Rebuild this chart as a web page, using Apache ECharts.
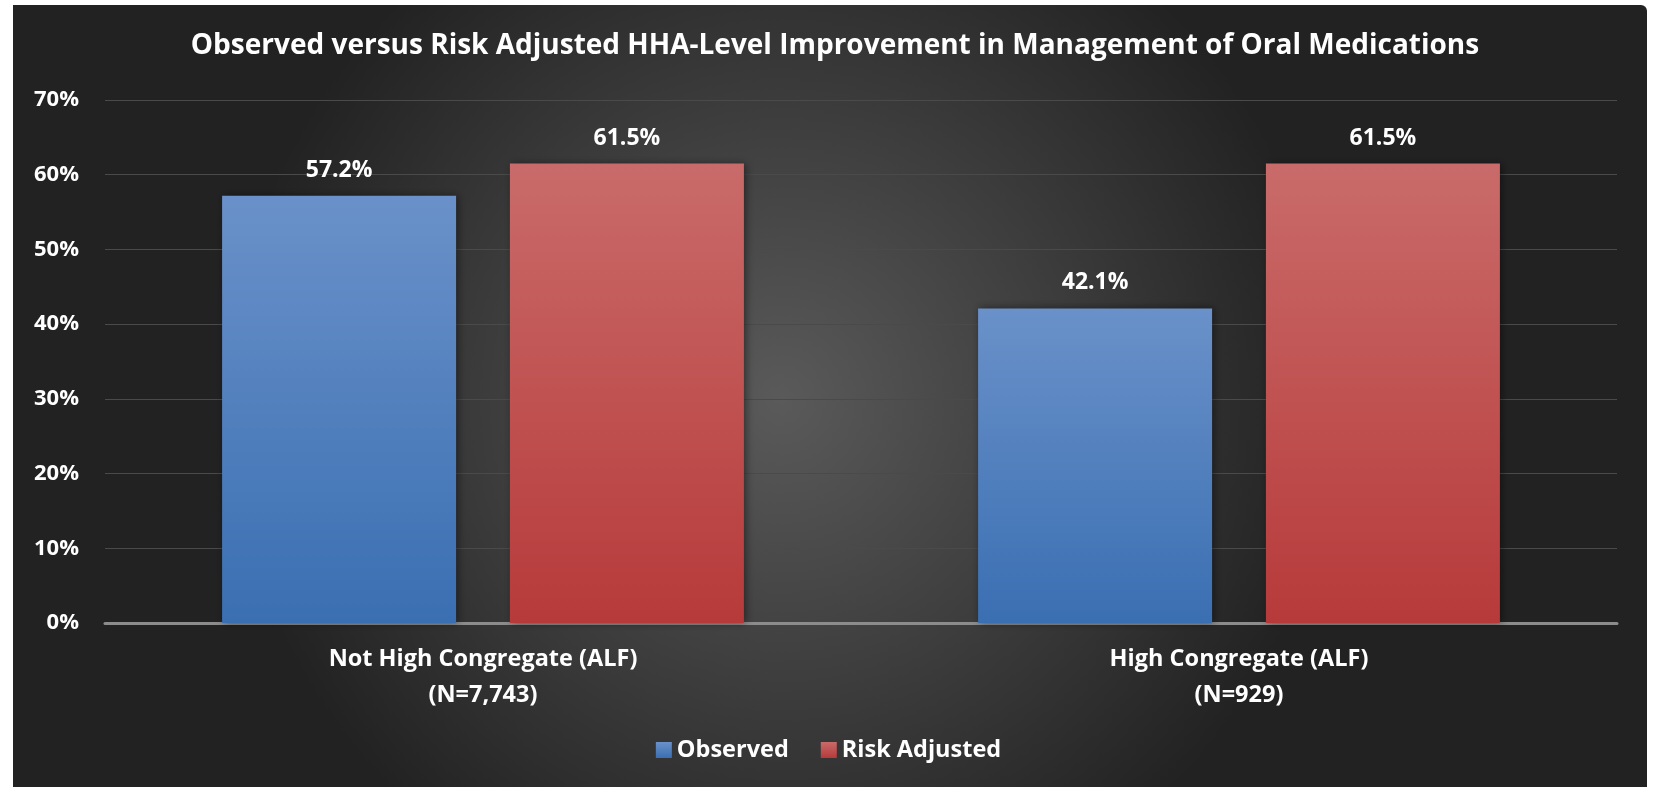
<!DOCTYPE html>
<html>
<head>
<meta charset="utf-8">
<script src="https://cdn.jsdelivr.net/npm/echarts@6/dist/echarts.min.js"></script>
<style>
  html, body { margin: 0; padding: 0; background: #fff; }
  #chart { width: 1657px; height: 787px; }
</style>
</head>
<body>
<div id="chart"></div>
<script>
var categories = ['Not High Congregate (ALF)\n(N=7,743)', 'High Congregate (ALF)\n(N=929)']
var observed = [57.2, 42.1]
var riskAdjusted = [61.5, 61.5]
var yTicks = [0, 10, 20, 30, 40, 50, 60, 70]

var font = '"Open Sans", "Noto Sans", sans-serif'

var chart = echarts.init(document.getElementById('chart'))

var barGradient = function (top, bottom) {
  return new echarts.graphic.LinearGradient(0, 0, 0, 1, [
    { offset: 0, color: top },
    { offset: 1, color: bottom },
  ])
}

var labelStyle = {
  show: true,
  position: 'top',
  distance: 14,
  color: '#fff',
  fontFamily: font,
  fontWeight: 'bold',
  fontSize: 23,
  formatter: function (p) { return p.value.toFixed(1) + '%' },
}

chart.setOption({
  animation: false,
  graphic: [
    {
      type: 'rect',
      z: -100,
      silent: true,
      shape: { x: 13, y: 5, width: 1634, height: 790, r: [0, 6, 0, 0] },
      style: {
        fill: new echarts.graphic.RadialGradient(0.47, 0.5, 0.7, [
          { offset: 0, color: '#5a5a5a' },
          { offset: 1, color: '#222222' },
        ]),
      },
    },
  ],
  title: {
    text: 'Observed versus Risk Adjusted HHA-Level Improvement in Management of Oral Medications',
    left: 830,
    textAlign: 'center',
    top: 27,
    textStyle: {
      color: '#fff',
      fontFamily: font,
      fontWeight: 'bold',
      fontSize: 28,
    },
  },
  legend: {
    bottom: 20,
    left: 'center',
    itemWidth: 16,
    itemHeight: 16,
    itemGap: 32,
    icon: 'rect',
    textStyle: {
      color: '#fff',
      fontFamily: font,
      fontWeight: 'bold',
      fontSize: 23.5,
    },
  },
  grid: {
    left: 105,
    right: 40,
    top: 100,
    bottom: 164,
  },
  xAxis: {
    type: 'category',
    data: categories,
    axisTick: { show: false },
    axisLine: { lineStyle: { color: '#8c8c8c', width: 3 } },
    axisLabel: {
      color: '#fff',
      fontFamily: font,
      fontWeight: 'bold',
      fontSize: 23.5,
      lineHeight: 36,
      margin: 18,
    },
  },
  yAxis: {
    type: 'value',
    min: yTicks[0],
    max: yTicks[yTicks.length - 1],
    interval: 10,
    axisLine: { show: false },
    axisTick: { show: false },
    splitLine: { lineStyle: { color: '#4a4a4a', width: 1 } },
    axisLabel: {
      color: '#fff',
      fontFamily: font,
      fontWeight: 'bold',
      fontSize: 22,
      margin: 26,
      formatter: '{value}%',
    },
  },
  series: [
    {
      name: 'Observed',
      type: 'bar',
      data: observed,
      barWidth: 234,
      barGap: '23%',
      itemStyle: {
        color: barGradient('#6a91c9', '#3a6fb2'),
        shadowColor: 'rgba(0,0,0,0.45)',
        shadowBlur: 8,
        shadowOffsetX: 2,
      },
      label: labelStyle,
    },
    {
      name: 'Risk Adjusted',
      type: 'bar',
      data: riskAdjusted,
      barWidth: 234,
      itemStyle: {
        color: barGradient('#c96b6a', '#b73a3a'),
        shadowColor: 'rgba(0,0,0,0.45)',
        shadowBlur: 8,
        shadowOffsetX: 2,
      },
      label: labelStyle,
    },
  ],
})

window.addEventListener('resize', function () {
  chart.resize()
})
</script>
</body>
</html>
